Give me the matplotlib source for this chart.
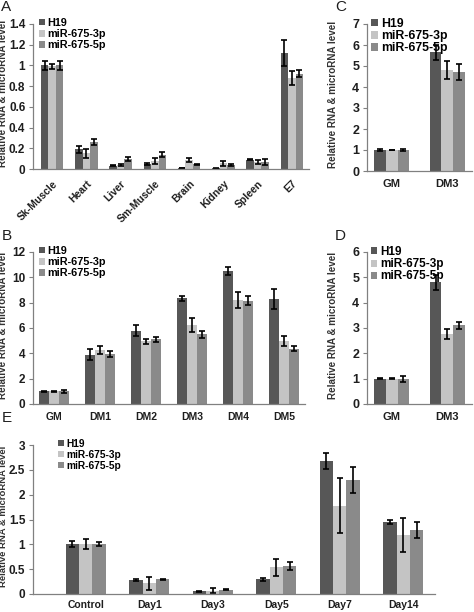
import matplotlib
matplotlib.use("Agg")
import matplotlib.pyplot as plt
import numpy as np

plt.rcParams['font.family'] = ['Liberation Sans', 'DejaVu Sans']

series = ["H19", "miR-675-3p", "miR-675-5p"]
colors = ["#575757", "#c4c4c4", "#8a8a8a"]

# Panel A
a_cats = ["Sk-Muscle", "Heart", "Liver", "Sm-Muscle", "Brain", "Kidney", "Spleen", "E7"]
a_h19 = [1.0, 0.19, 0.03, 0.05, 0.01, 0.005, 0.09, 1.12]
a_3p = [0.99, 0.15, 0.04, 0.08, 0.09, 0.055, 0.07, 0.88]
a_5p = [1.0, 0.26, 0.10, 0.14, 0.045, 0.035, 0.07, 0.92]
a_h19_err = [0.04, 0.035, 0.005, 0.008, 0.003, 0.002, 0.006, 0.13]
a_3p_err = [0.02, 0.04, 0.01, 0.03, 0.02, 0.025, 0.02, 0.07]
a_5p_err = [0.04, 0.03, 0.02, 0.02, 0.008, 0.01, 0.03, 0.035]

# Panel B
b_cats = ["GM", "DM1", "DM2", "DM3", "DM4", "DM5"]
b_h19 = [1.0, 3.9, 5.8, 8.35, 10.5, 8.3]
b_3p = [1.0, 4.25, 4.95, 6.25, 8.2, 4.95]
b_5p = [1.0, 3.95, 5.1, 5.5, 8.15, 4.35]
b_h19_err = [0.05, 0.45, 0.45, 0.2, 0.3, 0.8]
b_3p_err = [0.05, 0.3, 0.2, 0.55, 0.65, 0.4]
b_5p_err = [0.1, 0.25, 0.2, 0.3, 0.35, 0.2]

# Panel C
c_cats = ["GM", "DM3"]
c_h19 = [1.0, 5.65]
c_3p = [1.0, 4.82]
c_5p = [1.0, 4.72]
c_h19_err = [0.03, 0.35]
c_3p_err = [0.02, 0.42]
c_5p_err = [0.05, 0.37]

# Panel D
d_cats = ["GM", "DM3"]
d_h19 = [1.0, 4.8]
d_3p = [1.0, 2.75]
d_5p = [1.0, 3.1]
d_h19_err = [0.02, 0.3]
d_3p_err = [0.03, 0.2]
d_5p_err = [0.12, 0.15]

# Panel E
e_cats = ["Control", "Day1", "Day3", "Day5", "Day7", "Day14"]
e_h19 = [1.0, 0.28, 0.06, 0.30, 2.68, 1.45]
e_3p = [1.0, 0.22, 0.07, 0.54, 1.78, 1.19]
e_5p = [1.0, 0.30, 0.09, 0.56, 2.29, 1.29]
e_h19_err = [0.06, 0.02, 0.01, 0.03, 0.16, 0.05]
e_3p_err = [0.10, 0.13, 0.05, 0.17, 0.55, 0.34]
e_5p_err = [0.04, 0.01, 0.01, 0.08, 0.26, 0.16]

W, H = 474, 612
fig = plt.figure(figsize=(W / 100, H / 100), dpi=100)
TXT = "#1e1e1e"


def ax_px(l, r, t, b):
    return fig.add_axes([l / W, 1 - b / H, (r - l) / W, (b - t) / H])


def panel(ax, cats, vals, errs, ymax, ystep, xlim, bw, label_x_px, leg_x_px,
          label_size=7.1, leg_size=7.8, leg_space=0.1, tick_size=8.5, cat_size=7.5,
          rot=False, xpad=6, label_y=0.52):
    x = np.arange(len(cats))
    for i, (v, e) in enumerate(zip(vals, errs)):
        ax.bar(x + (i - 1) * bw, v, bw, color=colors[i], label=series[i],
               yerr=e, error_kw=dict(ecolor="black", elinewidth=1.2, capsize=2.3, capthick=1.2),
               zorder=2)
    ax.set_xlim(*xlim)
    ax.set_ylim(0, ymax)
    ticks = np.arange(0, ymax + ystep / 2, ystep)
    ax.set_yticks(ticks)
    ax.set_yticklabels(["%g" % round(t, 2) for t in ticks], fontsize=tick_size,
                       fontweight="bold", color=TXT)
    ax.set_xticks(x)
    if rot:
        ax.set_xticklabels(cats, fontsize=cat_size, fontweight="bold", rotation=45,
                           ha="right", va="top", rotation_mode="anchor", color=TXT)
    else:
        ax.set_xticklabels(cats, fontsize=cat_size, fontweight="bold", color=TXT)
    ax.tick_params(axis="x", length=0, pad=xpad)
    ax.tick_params(axis="y", length=3, width=0.8, color="#808080", pad=2.5)
    for s in ["top", "right"]:
        ax.spines[s].set_visible(False)
    for s in ["left", "bottom"]:
        ax.spines[s].set_color("#808080")
        ax.spines[s].set_linewidth(0.9)
    ax.set_ylabel("Relative RNA & microRNA level", fontsize=label_size,
                  fontweight="bold", color="#333333")
    bb = ax.get_position()
    ax.yaxis.set_label_coords((label_x_px / W - bb.x0) / bb.width, label_y)
    ax_h_px = bb.height * H
    ax_w_px = bb.width * W
    ax.legend(loc="upper left", bbox_to_anchor=((leg_x_px - bb.x0 * W) / ax_w_px, 1 + 6 / ax_h_px),
              frameon=False, handlelength=0.55, handleheight=0.55,
              handletextpad=0.25, labelspacing=leg_space, borderaxespad=0.0, borderpad=0.0,
              prop=dict(weight="bold", size=leg_size))
    return ax


axA = ax_px(33, 309, 24, 169)
panel(axA, a_cats, [a_h19, a_3p, a_5p], [a_h19_err, a_3p_err, a_5p_err], 1.4, 0.2,
      (-0.56, 7.5), 0.22, 8.5, 39, rot=True, xpad=7)

axC = ax_px(367, 472, 24, 171)
panel(axC, c_cats, [c_h19, c_3p, c_5p], [c_h19_err, c_3p_err, c_5p_err], 7, 1,
      (-0.45, 1.45), 0.21, 338, 371, leg_size=8.8, leg_space=0.02, tick_size=9, cat_size=8)

axB = ax_px(33, 305, 252, 404)
panel(axB, b_cats, [b_h19, b_3p, b_5p], [b_h19_err, b_3p_err, b_5p_err], 12, 2,
      (-0.45, 5.45), 0.22, 8.5, 39)

axD = ax_px(367, 472, 252, 404)
panel(axD, d_cats, [d_h19, d_3p, d_5p], [d_h19_err, d_3p_err, d_5p_err], 6, 1,
      (-0.45, 1.45), 0.21, 338, 371, leg_size=8.5, leg_space=0.02, tick_size=9, cat_size=8)

axE = ax_px(33, 435, 445, 594)
panel(axE, e_cats, [e_h19, e_3p, e_5p], [e_h19_err, e_3p_err, e_5p_err], 3, 0.5,
      (-0.83, 5.5), 0.21, 8.5, 58, label_size=6.8, leg_size=7.3, xpad=4)

for letter, px, py in [("A", 1, 0), ("C", 335, 0), ("B", 2, 229), ("D", 335, 229), ("E", 2, 411)]:
    fig.text(px / W, 1 - py / H, letter, fontsize=11, va="top", ha="left", color=TXT)

fig.savefig("out.png", dpi=100)
